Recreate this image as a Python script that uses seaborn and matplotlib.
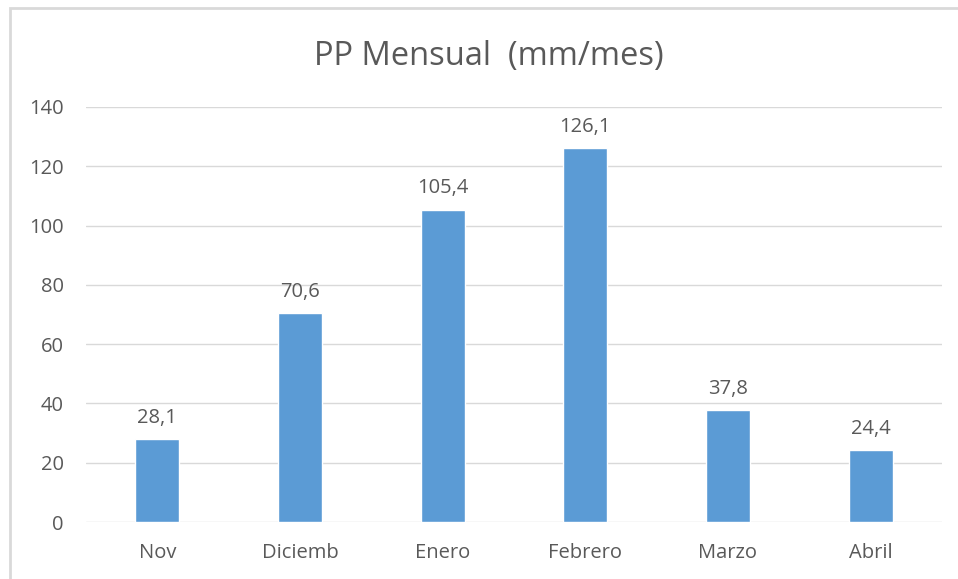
import matplotlib
matplotlib.use("Agg")
import matplotlib.pyplot as plt
import seaborn as sns
import pandas as pd
from matplotlib.patches import Rectangle

months = ["Nov", "Diciemb", "Enero", "Febrero", "Marzo", "Abril"]
precip = [28.1, 70.6, 105.4, 126.1, 37.8, 24.4]
y_ticks = [0, 20, 40, 60, 80, 100, 120, 140]

df = pd.DataFrame({"mes": months, "pp": precip})

sns.set_theme(style="white")
plt.rcParams["font.family"] = ["Open Sans", "DejaVu Sans"]

text_color = "#595959"
grid_color = "#D9D9D9"
bar_color = "#5B9BD5"

fig = plt.figure(figsize=(9.58, 5.79), dpi=100)
fig.patch.set_facecolor("white")
ax = fig.add_axes([86 / 958, 1 - 522 / 579, (942 - 86) / 958, (522 - 107) / 579])

sns.barplot(data=df, x="mes", y="pp", color=bar_color, width=0.31,
            saturation=1, ax=ax, zorder=3)

ax.set_ylim(0, 140)
ax.set_xlim(-0.5, len(months) - 0.5)
ax.set_yticks(y_ticks)
ax.set_yticklabels([str(t) for t in y_ticks])
for t in y_ticks:
    ax.axhline(t, color=grid_color, lw=1, zorder=1)

for s in ax.spines.values():
    s.set_visible(False)
ax.tick_params(axis="both", length=0, colors=text_color, labelsize=14.5)
ax.tick_params(axis="y", pad=16)
ax.tick_params(axis="x", pad=15)
ax.set_xlabel("")
ax.set_ylabel("")

for i, v in enumerate(precip):
    ax.annotate(f"{v:.1f}".replace(".", ","), (i, v), xytext=(0, 8),
                textcoords="offset points", ha="center", va="bottom",
                fontsize=14.5, color=text_color)

fig.text(489 / 958, 1 - 56 / 579, "PP Mensual  (mm/mes)", ha="center", va="center",
         fontsize=23.5, color=text_color)

# open frame on the left and top edges
fig.add_artist(Rectangle((10 / 958, -0.1), 1.2, 1.1 - 8 / 579,
                         transform=fig.transFigure, fill=False,
                         edgecolor="#D9D9D9", lw=2))

fig.savefig("out.png", dpi=100)
